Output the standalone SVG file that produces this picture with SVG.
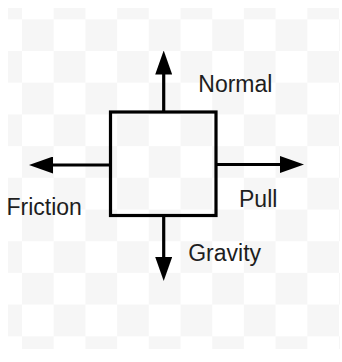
<svg xmlns="http://www.w3.org/2000/svg" width="342" height="362" viewBox="0 0 342 362">
  <style>
    .lbl { font-family: "Liberation Sans", Arial, sans-serif; font-size: 23px; fill: #1e1e1e; }
    .box { fill: none; stroke: #000000; stroke-width: 3.2; }
    .force { stroke: #000000; stroke-width: 3.2; fill: none; marker-end: url(#head); }
  </style>
  <defs>
    <pattern id="checker" patternUnits="userSpaceOnUse" x="22" y="19.3" width="63.4" height="63.4">
      <rect x="0" y="0" width="63.4" height="63.4" fill="#ffffff"/>
      <rect x="0" y="0" width="31.7" height="31.7" fill="#f6f6f6"/>
      <rect x="31.7" y="31.7" width="31.7" height="31.7" fill="#f6f6f6"/>
    </pattern>
    <marker id="head" markerUnits="userSpaceOnUse" markerWidth="24" markerHeight="17" refX="1" refY="8.5" orient="auto" viewBox="0 0 24 17">
      <path d="M0,0 L24,8.5 L0,17 Z" fill="#000000"/>
    </marker>
  </defs>
  <rect x="0" y="0" width="342" height="362" fill="#ffffff"/>
  <rect x="8" y="8" width="332" height="341" fill="url(#checker)"/>
  <g id="connectors">
    <line class="force" x1="163.7" y1="112" x2="163.7" y2="73.5"/>
    <line class="force" x1="110.5" y1="165" x2="52" y2="165"/>
    <line class="force" x1="216" y1="164.5" x2="281" y2="164.5"/>
    <line class="force" x1="163.7" y1="215.5" x2="163.7" y2="258"/>
  </g>
  <g id="object">
    <rect class="box" x="110.5" y="112" width="105.5" height="103.5"/>
  </g>
  <g id="normal">
    <text class="lbl" x="198.3" y="91.7">Normal</text>
  </g>
  <g id="friction">
    <text class="lbl" x="6.5" y="215.3">Friction</text>
  </g>
  <g id="pull">
    <text class="lbl" x="239" y="206.7">Pull</text>
  </g>
  <g id="gravity">
    <text class="lbl" x="188.2" y="261.3">Gravity</text>
  </g>
</svg>
